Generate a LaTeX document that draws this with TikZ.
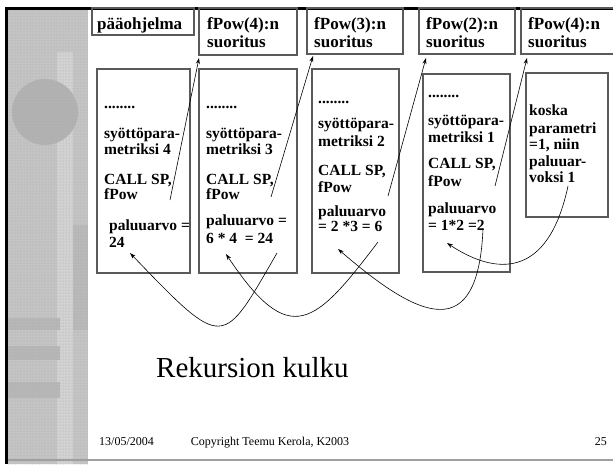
\documentclass[tikz,border=0pt]{standalone}
\usepackage{fontspec}
\setmainfont{Liberation Serif}
\usetikzlibrary{arrows.meta,patterns}
\definecolor{boxgray}{HTML}{5A5A5A}
\definecolor{sidebase}{HTML}{C4C4C4}
\definecolor{sidelight}{HTML}{D2D2D2}
\definecolor{sidedark}{HTML}{B2B2B2}
\begin{document}
\begin{tikzpicture}[x=1pt,y=-1pt,
  box/.style={draw=boxgray, line width=1.1pt, inner sep=0pt, outer sep=0pt, anchor=north west},
  hdr/.style={anchor=base west, inner sep=0pt, font=\fontsize{17}{17}\selectfont\bfseries},
  txt/.style={anchor=base west, inner sep=0pt, font=\fontsize{15.5}{15.5}\selectfont\bfseries},
  foot/.style={inner sep=0pt, font=\fontsize{12}{12}\selectfont},
  arr/.style={-{Stealth[length=6pt,width=4pt]}, line width=0.6pt},
]
\useasboundingbox (0,0) rectangle (613,464);
% sidebar
\fill[sidebase] (8,9) rectangle (88,464);
\fill[sidelight] (57,52) rectangle (73,464);
\fill[sidedark] (45,112) circle (33);
\fill[sidedark!60!sidebase] (73,225) rectangle (88,330);
\fill[sidedark!70!sidebase] (8,318) rectangle (60,330);
\fill[sidedark!70!sidebase] (8,346) rectangle (60,360);
\fill[sidedark!70!sidebase] (8,382) rectangle (60,398);
\fill[pattern=dots, pattern color=gray!70] (8,9) rectangle (88,464);
% frame
\fill[black] (5,7) rectangle (8,464);
\fill[black] (5,7) rectangle (613,9.5);
\fill[gray!75] (8,459) rectangle (613,461);

% top boxes
\node[box, minimum width=102pt, minimum height=27pt] (h0) at (92,8) {};
\node[box, minimum width=98pt, minimum height=47pt] (h1) at (199,8) {};
\node[box, minimum width=96pt, minimum height=46pt] (h2) at (307,8) {};
\node[box, minimum width=96pt, minimum height=46pt] (h3) at (419,8) {};
\node[box, minimum width=96pt, minimum height=46pt] (h4) at (521,8) {};
\node[hdr] (h0a) at (97,29) {pääohjelma};
\node[hdr] (h1a) at (207,29) {fPow(4):n};
\node[hdr] (h1b) at (207,47) {suoritus};
\node[hdr] (h2a) at (314,29) {fPow(3):n};
\node[hdr] (h2b) at (314,47) {suoritus};
\node[hdr] (h3a) at (426,29) {fPow(2):n};
\node[hdr] (h3b) at (426,47) {suoritus};
\node[hdr] (h4a) at (528,29) {fPow(4):n};
\node[hdr] (h4b) at (528,47) {suoritus};

% frame boxes
\node[box, minimum width=93pt, minimum height=204pt] (b1) at (97,69) {};
\node[box, minimum width=98pt, minimum height=204pt] (b2) at (199,69) {};
\node[box, minimum width=87pt, minimum height=204pt] (b3) at (312,69) {};
\node[box, minimum width=87pt, minimum height=198pt] (b4) at (423,74) {};
\node[box, minimum width=82pt, minimum height=144pt] (b5) at (526,73) {};

% box 1
\node[txt] (t11) at (104,108) {........};
\node[txt] (t12) at (104,138) {syöttöpara-};
\node[txt] (t13) at (104,154) {metriksi 4};
\node[txt] (t14) at (104,184) {CALL SP,};
\node[txt] (t15) at (104,199) {fPow};
\node[txt] (t16) at (109,230) {paluuarvo =};
\node[txt] (t17) at (109,247) {24};
% box 2
\node[txt] (t21) at (206,108) {........};
\node[txt] (t22) at (206,138) {syöttöpara-};
\node[txt] (t23) at (206,154) {metriksi 3};
\node[txt] (t24) at (206,184) {CALL SP,};
\node[txt] (t25) at (206,199) {fPow};
\node[txt] (t26) at (206,225) {paluuarvo =};
\node[txt] (t27) at (206,243) {6 * 4 \ = 24};
% box 3
\node[txt] (t31) at (318,103) {........};
\node[txt] (t32) at (318,128) {syöttöpara-};
\node[txt] (t33) at (318,146) {metriksi 2};
\node[txt] (t34) at (318,175) {CALL SP,};
\node[txt] (t35) at (318,192) {fPow};
\node[txt] (t36) at (318,216) {paluuarvo};
\node[txt] (t37) at (318,231) {= 2 *3 = 6};
% box 4
\node[txt] (t41) at (428,97) {........};
\node[txt] (t42) at (428,125) {syöttöpara-};
\node[txt] (t43) at (428,142) {metriksi 1};
\node[txt] (t44) at (428,168) {CALL SP,};
\node[txt] (t45) at (428,186) {fPow};
\node[txt] (t46) at (428,213) {paluuarvo};
\node[txt] (t47) at (428,230) {= 1*2 =2};
% box 5
\node[txt] (t51) at (529,115) {koska};
\node[txt] (t52) at (529,133) {parametri};
\node[txt] (t53) at (529,149) {=1, niin};
\node[txt] (t54) at (529,166) {paluuar-};
\node[txt] (t55) at (529,182) {voksi 1};

% calls
\coordinate (c1s) at (170,200); \coordinate (c1e) at (199,58);
\coordinate (c2s) at (271,197); \coordinate (c2e) at (313,56);
\coordinate (c3s) at (388,196); \coordinate (c3e) at (426,58);
\coordinate (c4s) at (495,186); \coordinate (c4e) at (527,58);
\draw[arr] (c1s) -- (c1e);
\draw[arr] (c2s) -- (c2e);
\draw[arr] (c3s) -- (c3e);
\draw[arr] (c4s) -- (c4e);

% returns
\coordinate (r1s) at (277,253); \coordinate (r1e) at (130,253);
\coordinate (r2s) at (378,242); \coordinate (r2e) at (226,254);
\coordinate (r3s) at (483,229); \coordinate (r3e) at (338,249);
\coordinate (r4s) at (568,186); \coordinate (r4e) at (447,243);
\draw[arr] (r1s) .. controls (222,348) and (225,352) .. (r1e);
\draw[arr] (r2s) .. controls (315,325) and (290,350) .. (r2e);
\draw[arr] (r3s) .. controls (478,345) and (420,320) .. (r3e);
\draw[arr] (r4s) .. controls (548,280) and (495,275) .. (r4e);

% title and footer
\node[anchor=base west, inner sep=0pt, font=\fontsize{29}{29}\selectfont] (title) at (156,377) {Rekursion kulku};
\node[foot, anchor=base west] (fdate) at (99,445) {13/05/2004};
\node[foot, anchor=base] (fcopy) at (270,445) {Copyright Teemu Kerola, K2003};
\node[foot, anchor=base east] (fpage) at (607,445) {25};
\end{tikzpicture}
\end{document}
